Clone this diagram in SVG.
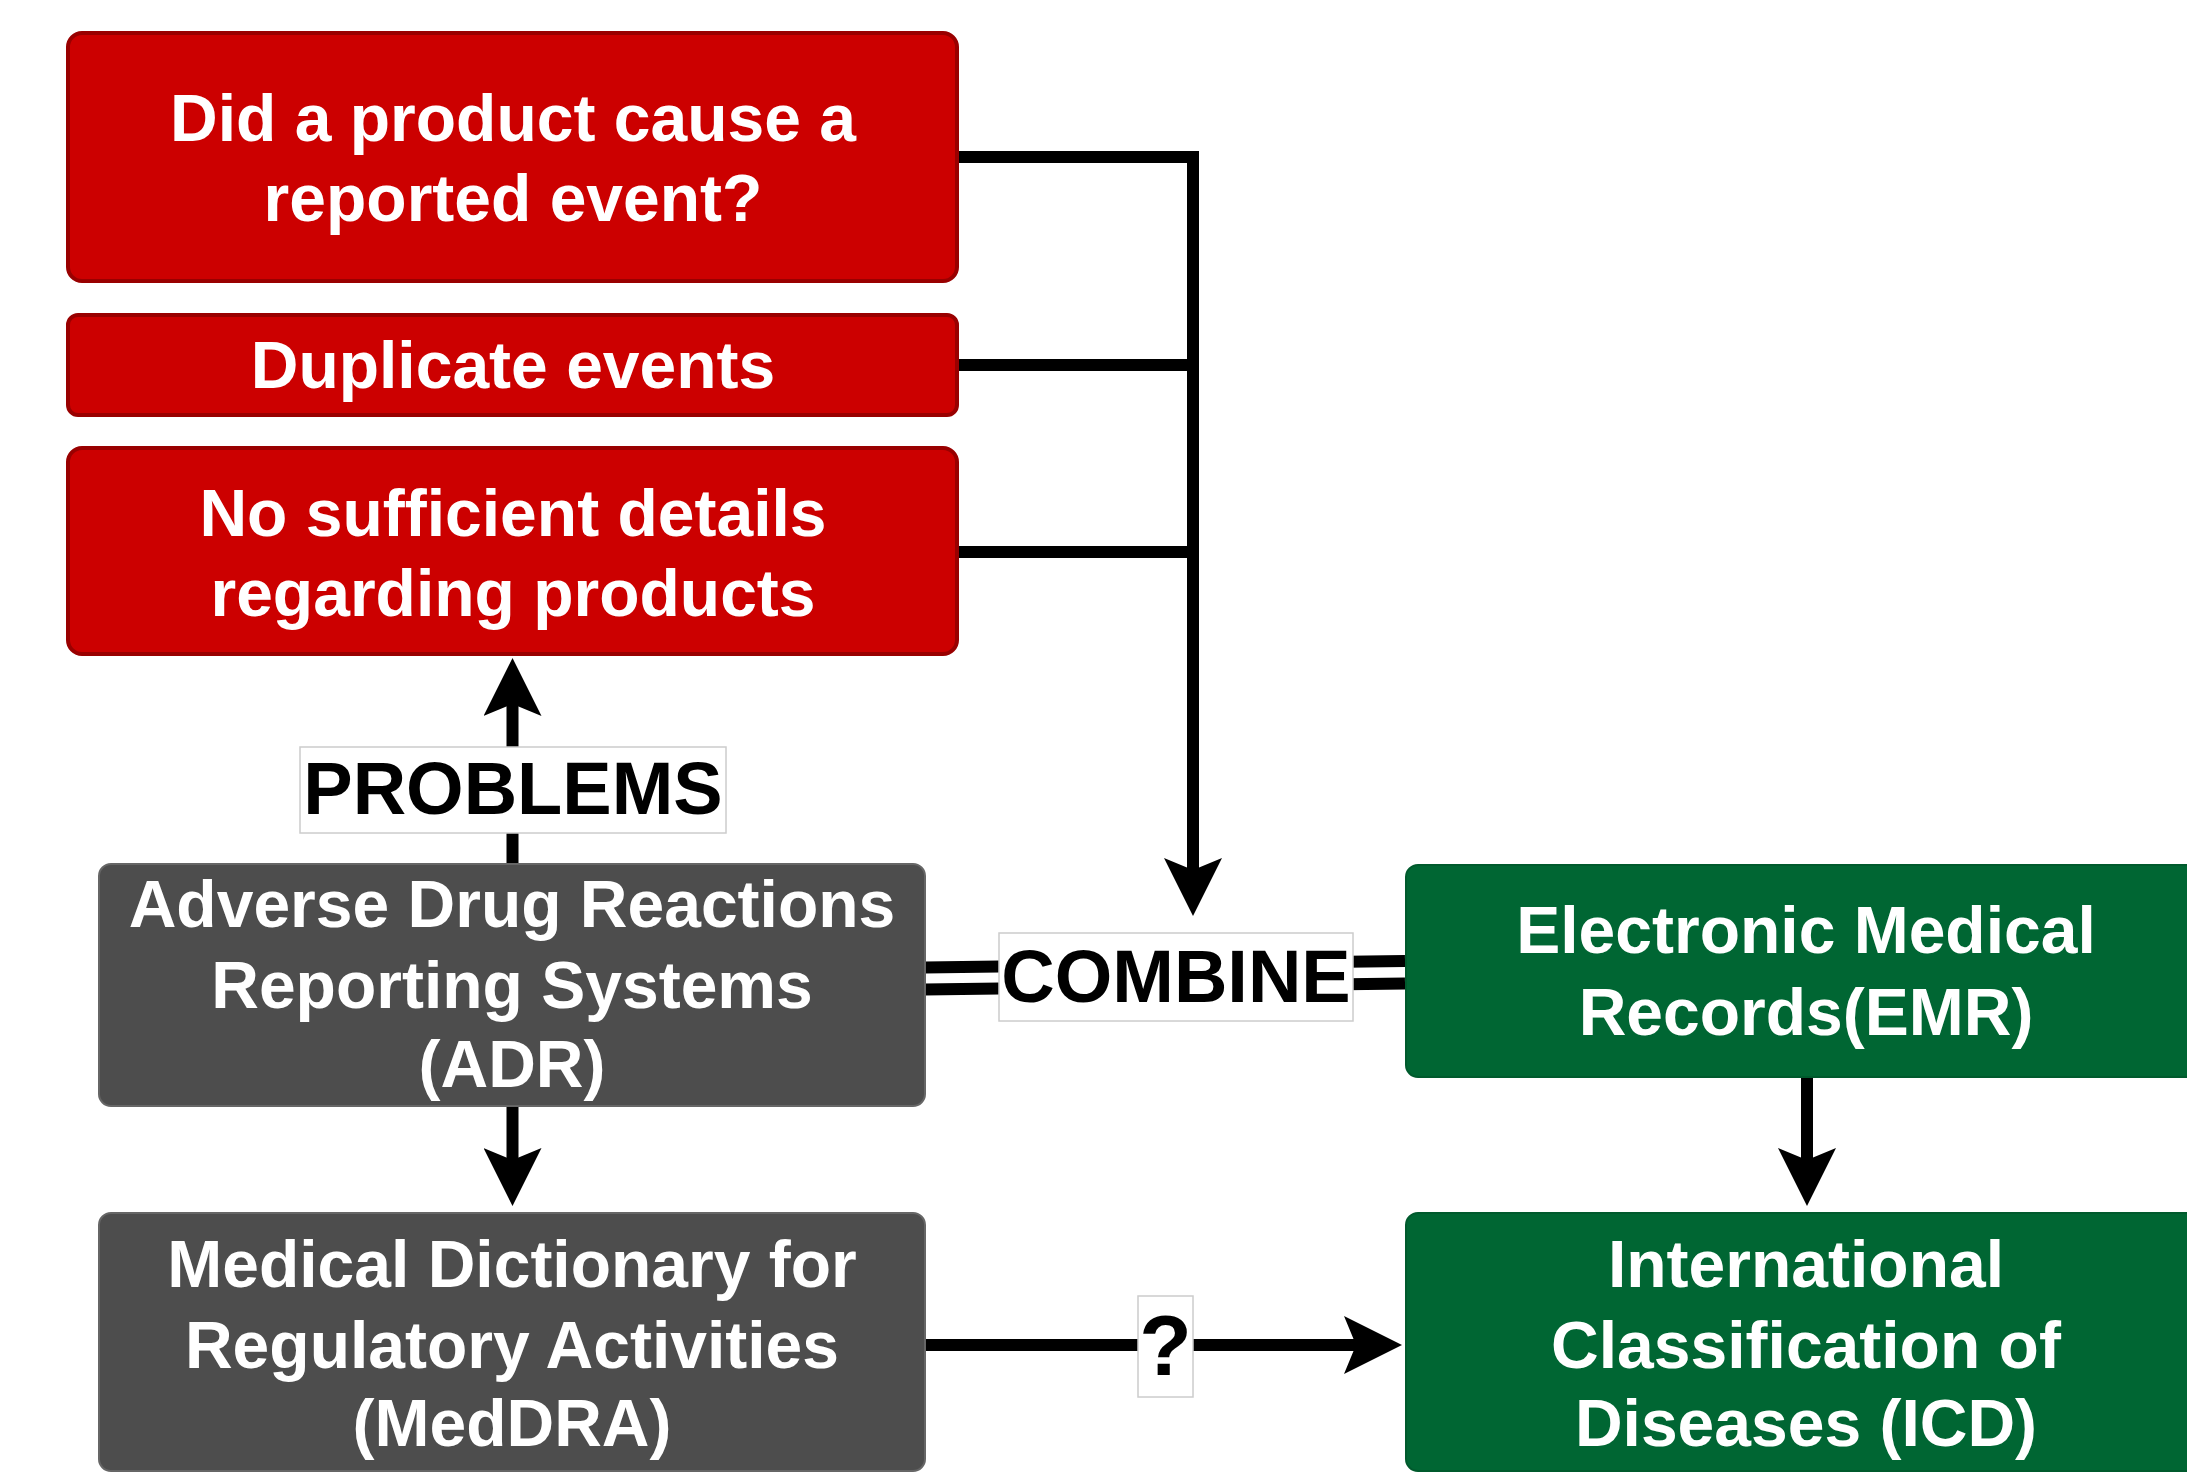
<svg xmlns="http://www.w3.org/2000/svg" width="2187" height="1476" viewBox="0 0 2187 1476">
<style>
.t{font-family:"Liberation Sans",Arial,Helvetica,sans-serif;font-weight:bold;font-size:66px;fill:#ffffff;text-anchor:middle}
.lbl{font-family:"Liberation Sans",Arial,Helvetica,sans-serif;font-weight:bold;font-size:74px;fill:#000000;text-anchor:middle}
.red{fill:#cc0000;stroke:#990000;stroke-width:4}
.gray{fill:#4d4d4d;stroke:#666666;stroke-width:2}
.green{fill:#006633;stroke:#005a2d;stroke-width:2}
.ln{fill:none;stroke:#000000;stroke-width:12}
.lb{fill:#ffffff;stroke:#cccccc;stroke-width:1.5}
</style>
<defs>
<marker id="arr" markerUnits="userSpaceOnUse" markerWidth="58" markerHeight="58" viewBox="0 0 58 58" refX="12" refY="29" orient="auto">
<path d="M0,0 L58,29 L0,58 L12,29 Z" fill="#000000"/>
</marker>
</defs>
<rect width="2187" height="1476" fill="#ffffff"/>
<g id="connectors">
<path class="ln" d="M957,157 H1193 V870" marker-end="url(#arr)"/>
<path class="ln" d="M957,365 H1193"/>
<path class="ln" d="M957,552 H1193"/>
<path class="ln" d="M512.5,864 V704" marker-end="url(#arr)"/>
<rect class="lb" x="300" y="747" width="426" height="86"/>
<text class="lbl" x="513" y="814">PROBLEMS</text>
<path class="ln" d="M512.5,1106 V1160" marker-end="url(#arr)"/>
<path class="ln" d="M1807,1077 V1160" marker-end="url(#arr)"/>
<path class="ln" d="M925,1345 H1356" marker-end="url(#arr)"/>
<rect class="lb" x="1138" y="1296" width="55" height="101"/>
<text class="lbl" x="1165.5" y="1375" style="font-size:86px">?</text>
<path class="ln" d="M925,967.5 L1405,961"/>
<path class="ln" d="M925,989.5 L1405,983.5"/>
<rect class="lb" x="999" y="933" width="354" height="88"/>
<text class="lbl" x="1176" y="1002">COMBINE</text>
</g>
<g id="q1">
<rect class="red" x="68" y="33" width="889" height="248" rx="14"/>
<text class="t" x="513" y="141">Did a product cause a</text>
<text class="t" x="513" y="221">reported event?</text>
</g>
<g id="q2">
<rect class="red" x="68" y="315" width="889" height="100" rx="10"/>
<text class="t" x="513" y="388">Duplicate events</text>
</g>
<g id="q3">
<rect class="red" x="68" y="448" width="889" height="206" rx="14"/>
<text class="t" x="513" y="536">No sufficient details</text>
<text class="t" x="513" y="616">regarding products</text>
</g>
<g id="adr">
<rect class="gray" x="99" y="864" width="826" height="242" rx="12"/>
<text class="t" x="512" y="927">Adverse Drug Reactions</text>
<text class="t" x="512" y="1008">Reporting Systems</text>
<text class="t" x="512" y="1087">(ADR)</text>
</g>
<g id="meddra">
<rect class="gray" x="99" y="1213" width="826" height="258" rx="12"/>
<text class="t" x="512" y="1287">Medical Dictionary for</text>
<text class="t" x="512" y="1368">Regulatory Activities</text>
<text class="t" x="512" y="1446">(MedDRA)</text>
</g>
<g id="emr">
<rect class="green" x="1406" y="865" width="800" height="212" rx="12"/>
<text class="t" x="1806" y="953">Electronic Medical</text>
<text class="t" x="1806" y="1035">Records(EMR)</text>
</g>
<g id="icd">
<rect class="green" x="1406" y="1213" width="800" height="258" rx="12"/>
<text class="t" x="1806" y="1287">International</text>
<text class="t" x="1806" y="1368">Classification of</text>
<text class="t" x="1806" y="1446">Diseases (ICD)</text>
</g>
</svg>
